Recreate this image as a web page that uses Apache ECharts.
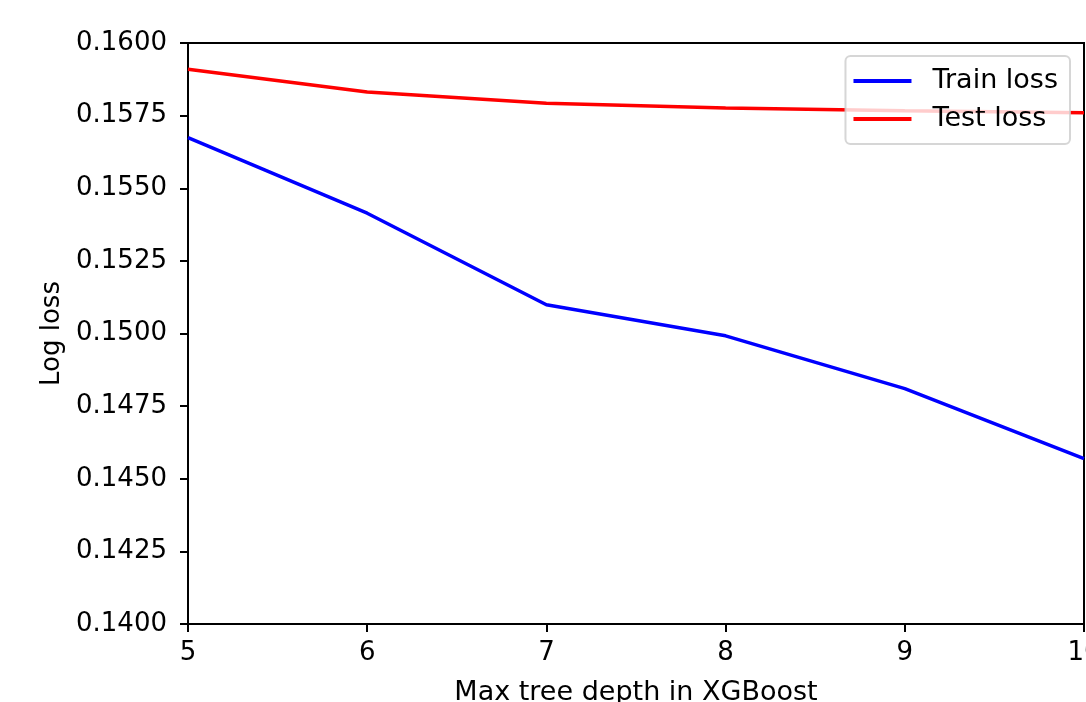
<!DOCTYPE html>
<html>
<head>
<meta charset="utf-8">
<script src="https://cdn.jsdelivr.net/npm/echarts@6/dist/echarts.min.js"></script>
<style>
    html, body { margin: 0; padding: 0; background: #fff; }
    #main { width: 1086px; height: 702px; }
</style>
</head>
<body>
<div id="main"></div>
<script>
var depths = [5, 6, 7, 8, 9, 10]
var trainLoss = [0.15674, 0.15414, 0.15099, 0.14992, 0.14810, 0.14569]
var testLoss = [0.15910, 0.15831, 0.15793, 0.15776, 0.15767, 0.15760]

function pairs(xs, ys) {
    var list = []
    for (let i = 0; i < xs.length; i++) {
        list.push([xs[i], ys[i]])
    }
    return list
}

var font = 'DejaVu Sans'
var option = {
    animation: false,
    backgroundColor: '#fff',
    textStyle: { fontFamily: font },
    grid: {
        left: 188,
        right: 2,
        top: 43,
        bottom: 78,
        outerBoundsMode: 'none',
        containLabel: false,
        show: true,
        borderColor: '#000',
        borderWidth: 2
    },
    legend: {
        orient: 'vertical',
        right: 16,
        top: 56,
        icon: 'rect',
        itemWidth: 58,
        itemHeight: 4,
        itemGap: 8,
        padding: [10, 12, 10, 8],
        backgroundColor: 'rgba(255,255,255,0.8)',
        borderColor: 'rgba(204,204,204,0.8)',
        borderWidth: 2,
        borderRadius: 5,
        textStyle: {
            fontFamily: font,
            fontSize: 27,
            lineHeight: 30,
            color: '#000',
            padding: [0, 0, 0, 16]
        },
        data: ['Train loss', 'Test loss']
    },
    xAxis: {
        type: 'value',
        min: 5,
        max: 10,
        interval: 1,
        name: 'Max tree depth in XGBoost',
        nameLocation: 'middle',
        nameGap: 55,
        nameTextStyle: { fontFamily: font, fontSize: 27, color: '#000' },
        axisLine: { show: true, lineStyle: { color: '#000', width: 2 } },
        axisTick: { show: true, length: 8, lineStyle: { color: '#000', width: 2 } },
        axisLabel: { fontFamily: font, fontSize: 26, color: '#000', margin: 16 },
        splitLine: { show: false }
    },
    yAxis: {
        type: 'value',
        min: 0.14,
        max: 0.16,
        interval: 0.0025,
        name: 'Log loss',
        nameLocation: 'middle',
        nameGap: 121,
        nameTextStyle: { fontFamily: font, fontSize: 26, color: '#000' },
        axisLine: { show: true, lineStyle: { color: '#000', width: 2 } },
        axisTick: { show: true, length: 8, lineStyle: { color: '#000', width: 2 } },
        axisLabel: {
            fontFamily: font, fontSize: 26, color: '#000', margin: 21,
            formatter: function (v) { return v.toFixed(4) }
        },
        splitLine: { show: false }
    },
    series: [{
        name: 'Train loss',
        type: 'line',
        symbol: 'none',
        color: '#0000ff',
        lineStyle: { color: '#0000ff', width: 3.5 },
        data: pairs(depths, trainLoss)
    }, {
        name: 'Test loss',
        type: 'line',
        symbol: 'none',
        color: '#ff0000',
        lineStyle: { color: '#ff0000', width: 3.5 },
        data: pairs(depths, testLoss)
    }]
}
var myChart = echarts.init(document.getElementById('main'))
myChart.setOption(option)
</script>
</body>
</html>
